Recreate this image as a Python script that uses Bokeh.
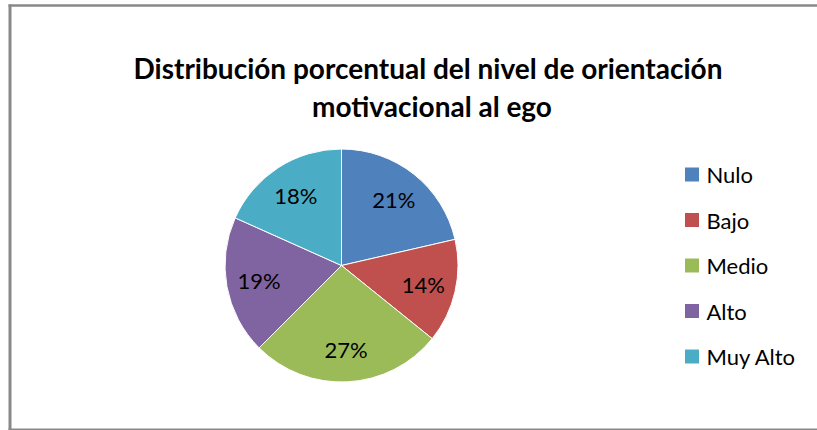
import math
from bokeh.plotting import figure
from bokeh.models import Range1d, ColumnDataSource
from bokeh.core.properties import value
from bokeh.embed import file_html
from bokeh.resources import INLINE

# ---- data ----
categories = ["Nulo", "Bajo", "Medio", "Alto", "Muy Alto"]
shares = [21.4, 14.4, 26.7, 19.2, 18.3]
pct_labels = ["21%", "14%", "27%", "19%", "18%"]
colors = ["#4F81BD", "#C0504D", "#9BBB59", "#8064A2", "#4BACC6"]
title_lines = ["Distribución porcentual del nivel de orientación", "motivacional al ego"]

W, H = 817, 430
FONT = "Lato"

p = figure(width=W, height=H, output_backend="svg", toolbar_location=None,
           x_range=Range1d(0, W), y_range=Range1d(0, H), min_border=0)
p.axis.visible = False
p.grid.visible = False
p.outline_line_color = None
p.background_fill_color = "white"
p.border_fill_color = "white"

def Y(py):
    # page pixel y -> data y
    return H - py

def X(px):
    return px

# border (left, top, bottom)
bc = "#898989"
p.line([X(9.5), X(9.5)], [Y(4), Y(430)], line_color=bc, line_width=3)
p.line([X(8), X(817)], [Y(5), Y(5)], line_color=bc, line_width=2.5)
p.line([X(8), X(817)], [Y(429), Y(429)], line_color=bc, line_width=2)

# pie
cx, cy, r = X(341), Y(265), 116.5
total = sum(shares)
starts, ends, lx, ly = [], [], [], []
acc = 0.0
for s in shares:
    a0 = math.pi / 2 - 2 * math.pi * acc / total
    acc += s
    a1 = math.pi / 2 - 2 * math.pi * acc / total
    starts.append(a1)
    ends.append(a0)
    mid = (a0 + a1) / 2
    lx.append(cx + 0.72 * r * math.cos(mid))
    ly.append(cy + 0.72 * r * math.sin(mid))

src = ColumnDataSource(dict(start=starts, end=ends, color=colors, lx=lx, ly=ly,
                            lab=pct_labels))
p.wedge(x=cx, y=cy, radius=r, radius_units="screen", start_angle="start", end_angle="end",
        fill_color="color", line_color="white", line_width=1, source=src)
p.text(x="lx", y="ly", text="lab", source=src, text_font=value(FONT),
       text_font_size="22px", text_align="center", text_baseline="middle",
       text_color="black")

# title
p.text(x=[X(427.5), X(431.5)], y=[Y(67), Y(105.5)], text=title_lines, text_font=value(FONT),
       text_font_size="28px", text_font_style="bold", text_align="center",
       text_baseline="middle", text_color="black")

# legend
leg_y = [Y(174 + 45.5 * i) for i in range(len(categories))]
leg_src = ColumnDataSource(dict(y=leg_y, color=colors, lab=categories))
p.rect(x=X(691.5), y="y", width=14, height=14, width_units="screen", height_units="screen",
       fill_color="color", line_color=None, source=leg_src)
p.text(x=X(706), y="y", text="lab", source=leg_src, text_font=value(FONT),
       text_font_size="22px", text_align="left", text_baseline="middle", text_color="black")

open("out.html", "w").write(file_html(p, INLINE))
